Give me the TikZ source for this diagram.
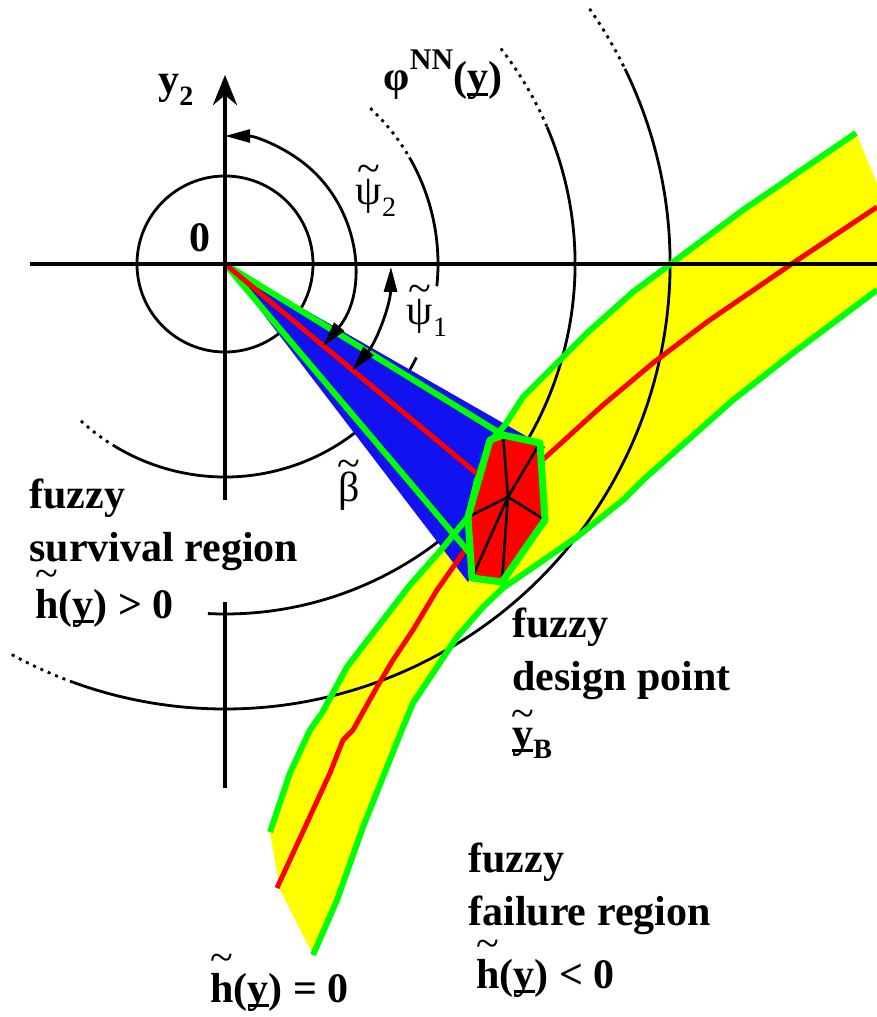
\documentclass[tikz,border=0pt]{standalone}
\usepackage{fontspec}
\setmainfont{Liberation Serif}
\usetikzlibrary{arrows.meta, calc}

\definecolor{bandyellow}{RGB}{255,255,0}
\definecolor{bandgreen}{RGB}{0,255,0}
\definecolor{bandred}{RGB}{255,0,0}
\definecolor{coneblue}{RGB}{18,18,240}

% tilde set over a letter, underlined letter, small indices
\newcommand{\tld}[2][0.55em]{\ooalign{#2\cr\hidewidth\smash{\raisebox{#1}{\normalfont\char"7E}}\hidewidth\cr}}
\newcommand{\uln}[1]{\setbox0\hbox{#1}\rlap{\rule[-0.12em]{\wd0}{0.075em}}\box0}
\newcommand{\lowtxt}[1]{\raisebox{-0.28em}{\fontsize{14pt}{14pt}\selectfont #1}}
\newcommand{\hightxt}[1]{\raisebox{0.5em}{\fontsize{15pt}{15pt}\selectfont #1}}

\begin{document}
\begin{tikzpicture}[x=0.5pt, y=0.5pt,
  axis/.style={line width=2.2pt},
  contour/.style={line width=1.4pt},
  fade/.style={line width=1.4pt, dash pattern=on 1.5pt off 2.5pt},
  sweep/.style={line width=1.4pt, {Triangle[length=12.5pt,width=6.5pt]}-{Triangle[length=12.5pt,width=6.5pt]}},
  bound/.style={bandgreen, line width=3pt, line join=round},
  centre/.style={bandred, line width=2.5pt, line join=round},
  spoke/.style={black, line width=1.3pt},
  txt/.style={font=\fontsize{21pt}{26.5pt}\selectfont\bfseries, inner sep=0pt, align=left},
  greektxt/.style={font=\fontsize{21pt}{24pt}\selectfont, inner sep=0pt}]
\useasboundingbox (-225,-753) rectangle (652,264);
\coordinate (O) at (0,0);

% fuzzy limit state band
\fill[bandyellow] (631,131) -- (518,54) -- (447,1) -- (408,-28) -- (362,-69) -- (298,-133)
  -- (280,-161) -- (265,-178) -- (252,-216) -- (243,-253) -- (216,-286) -- (185,-321)
  -- (148,-369) -- (122,-403) -- (97,-449) -- (85,-466) -- (65,-509) -- (45,-568)
  -- (55,-626) -- (88,-691) -- (112,-636) -- (138,-563) -- (158,-513) -- (178,-463)
  -- (188,-439) -- (212,-403) -- (232,-373) -- (258,-343) -- (278,-324) -- (352,-273)
  -- (398,-236) -- (418,-216) -- (508,-136) -- (568,-89) -- (652,-26) -- (652,81) -- cycle;

% contours of phi
\draw[contour] (O) circle[radius=88];
\draw[contour] (30:213) arc[start angle=30, end angle=-6, radius=213];
\draw[contour] (-26:213) arc[start angle=-26, end angle=-121, radius=213];
\draw[fade] (47:213) arc[start angle=47, end angle=30, radius=213];
\draw[fade] (-121:213) arc[start angle=-121, end angle=-133, radius=213];
\draw[contour] (23:350) arc[start angle=23, end angle=-92.8, radius=350];
\draw[fade] (38:350) arc[start angle=38, end angle=23, radius=350];
\draw[contour] (26:445) arc[start angle=26, end angle=-110, radius=445];
\draw[fade] (35:445) arc[start angle=35, end angle=26, radius=445];
\draw[fade] (-110:445) arc[start angle=-110, end angle=-119, radius=445];

% cone of beta
\fill[coneblue] (O) -- (320,-183) -- (243,-318) -- cycle;

% band edges and centre line
\draw[bound] (631,131) -- (518,54) -- (447,1) -- (408,-28) -- (362,-69) -- (298,-133)
  -- (280,-161) -- (265,-178) -- (252,-216) -- (243,-253) -- (216,-286) -- (185,-321)
  -- (148,-369) -- (122,-403) -- (97,-449) -- (85,-466) -- (65,-509) -- (45,-568);
\draw[bound] (88,-691) -- (112,-636) -- (138,-563) -- (158,-513) -- (178,-463)
  -- (188,-439) -- (212,-403) -- (232,-373) -- (258,-343) -- (278,-324) -- (352,-273)
  -- (398,-236) -- (418,-216) -- (508,-136) -- (568,-89) -- (652,-26);
\draw[centre] (652,57) -- (568,1) -- (482,-58) -- (428,-99) -- (378,-141) -- (312,-201)
  -- (238,-289) -- (212,-326) -- (188,-366) -- (168,-396) -- (152,-423) -- (128,-466)
  -- (118,-476) -- (105,-509) -- (52,-624);

% cone edges
\draw[bound] (O) -- (278,-171);
\draw[bound] (O) -- (248,-293) -- (277,-318);
\draw[centre] (O) -- (262,-218);

% fuzzy design point
\coordinate (p1) at (278,-171);
\coordinate (p2) at (315,-179);
\coordinate (p3) at (320,-256);
\coordinate (p4) at (277,-318);
\coordinate (p5) at (247,-314);
\coordinate (p6) at (243,-253);
\coordinate (p7) at (265,-176);
\coordinate (dp) at (283,-233);
\fill[bandred] (p1) -- (p2) -- (p3) -- (p4) -- (p5) -- (p6) -- (p7) -- cycle;
\foreach \v in {p1,p2,p3,p4,p5,p6}
  \draw[spoke] (dp) -- (\v);
\draw[bound, line width=3.5pt] (p1) -- (p2) -- (p3) -- (p4) -- (p5) -- (p6) -- (p7) -- cycle;

% axes
\draw[axis] (-195,0) -- (652,0);
\draw[axis, -{Stealth[length=15pt,width=12pt]}] (0,-236) -- (0,189);
\draw[axis] (0,-338) -- (0,-524);

% angles
\draw[sweep] (-39.8:128) arc[start angle=-39.8, end angle=90, radius=128];
\draw[sweep] (-1:166) arc[start angle=-1, end angle=-39.8, radius=166];

% labels
\node[txt] (ylab) at (-49,174) {y\lowtxt{2}};
\node[txt] (zero) at (-25,26) {0};
\node[greektxt] (psitwo) at (151,66) {\tld[0.52em]{ψ}\lowtxt{2}};
\node[greektxt] (psione) at (202,-54) {\tld[0.52em]{ψ}\lowtxt{1}};
\node[greektxt] (betalab) at (124,-223) {\tld[0.57em]{β}};
\node[txt] (philab) at (218,189) {φ\hightxt{NN}(\uln{y})};
\node[txt, anchor=base west] (survival) at (-196,-354)
  {fuzzy\\survival region\\[2pt]\hspace{3pt}\tld[0.72em]{h}(\uln{y}) > 0};
\node[txt, anchor=base west] (design) at (287,-483)
  {fuzzy\\design point\\[2pt]\tld[0.46em]{\uln{y}}\lowtxt{B}};
\node[txt, anchor=base west] (failure) at (243,-724)
  {fuzzy\\failure region\\[5pt]\hspace{4pt}\tld[0.72em]{h}(\uln{y}) < 0};
\node[txt, anchor=base west] (limit) at (-15,-738) {\tld[0.72em]{h}(\uln{y}) = 0};
\end{tikzpicture}
\end{document}
